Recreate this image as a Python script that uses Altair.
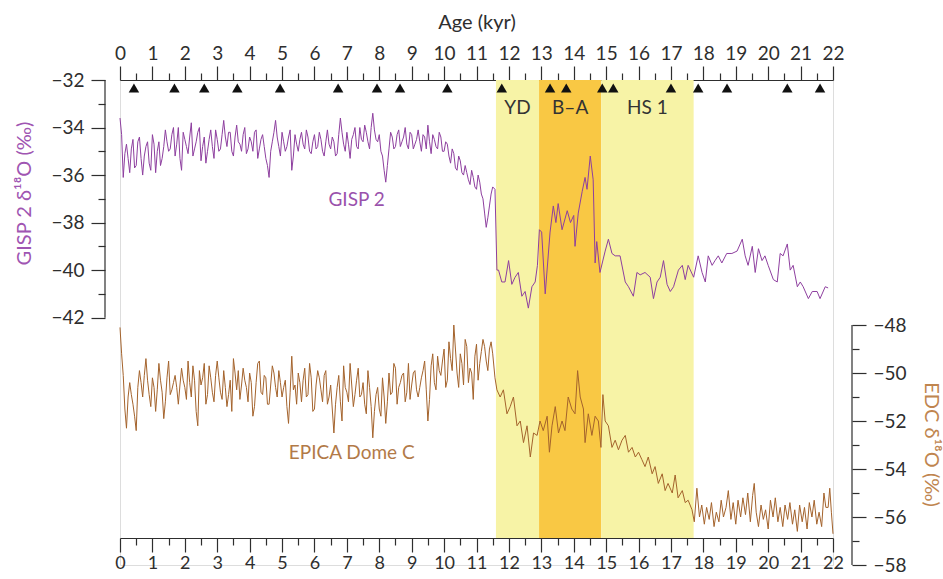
import altair as alt
import pandas as pd

FONT = "Lato"

# ---------------- data ----------------
AGE_STEP = 0.1  # Holocene part: values on a 0.1 kyr grid, plus values half-way between
gisp_holocene = [
    -33.6, -36.1, -34.7, -35.9, -34.5, -35.6, -34.4, -36.0, -34.8, -35.5,
    -34.3, -35.9, -34.6, -35.3, -34.1, -35.0, -34.3, -35.2, -34.0, -35.8,
    -34.5, -35.1, -33.8, -34.9, -34.2, -35.4, -34.4, -35.0, -34.1, -35.3,
    -34.5, -34.9, -33.7, -34.8, -34.2, -35.2, -33.9, -34.7, -34.3, -35.1,
    -34.4, -35.0, -34.1, -34.9, -34.3, -35.3, -36.1, -34.6, -33.7, -34.8,
    -34.2, -35.0, -34.4, -35.8, -34.3, -35.0, -34.2, -34.9, -34.4, -35.1,
    -34.3, -34.8, -34.5, -35.2, -34.1, -34.9, -34.6, -35.1, -33.6, -34.7,
    -34.2, -35.3, -34.3, -34.8, -34.0, -34.6, -34.2, -34.9, -33.4, -34.5,
    -34.3, -35.2, -36.3, -34.9, -34.4, -34.8, -34.1, -34.6, -34.0, -34.9,
    -34.3, -34.7, -34.1, -35.0, -34.4, -33.9, -35.1, -34.5, -34.9, -34.4,
    -35.0, -34.7, -35.5, -35.1, -35.8, -35.4, -36.0, -35.9, -36.4, -36.1,
    -36.6, -36.3, -37.0, -38.2, -37.3, -36.5,
]
gisp_holocene_mid = [
    -34.3, -35.1, -35.3, -34.9, -35.7, -34.6, -35.3, -35.2, -34.6, -35.8,
    -34.7, -35.0, -35.6, -34.8,
    -34.6, -34.9, -34.0, -34.7, -35.3, -34.2, -34.8, -34.4, -35.2, -34.6,
    -34.0, -34.8, -35.5, -34.5, -34.8, -34.1, -35.0, -34.3,
    -34.4, -34.2, -35.0, -34.4, -34.6, -35.0, -34.0, -34.9, -34.6, -34.2,
    -35.3, -34.5, -34.8, -35.6, -35.0, -34.2, -34.4, -35.2, -34.6, -34.8,
    -34.1, -35.2, -34.7, -34.5,
    -34.7, -34.1, -35.0, -34.6, -34.9, -34.2, -35.0, -34.6, -34.7, -34.4,
    -35.2, -34.3, -34.2, -35.0, -34.7, -34.5, -34.0, -34.9, -34.5, -33.9,
    -34.6, -34.0,
    -34.1, -34.6, -35.0, -35.8, -35.6, -34.2, -34.9, -34.3, -34.8, -34.4,
    -34.7, -34.2, -34.9, -34.5, -34.6, -34.3, -34.9, -34.6, -34.3, -34.8,
    -34.2, -35.0, -34.6, -35.2,
    -34.9, -35.7, -35.2, -35.9, -35.6, -36.2, -35.8, -36.5, -36.0, -36.8,
    -37.6, -37.8, -36.8,
]
gisp_deglacial_age = [
    11.57, 11.63, 11.68, 11.78, 11.88, 11.99, 12.09, 12.19, 12.29, 12.4,
    12.5, 12.6, 12.71, 12.81, 12.88, 12.94, 13.01, 13.12, 13.27, 13.37,
    13.45, 13.52, 13.64, 13.8, 13.9, 14.0, 14.04, 14.14, 14.26, 14.35,
    14.41, 14.51, 14.6, 14.66, 14.71, 14.81, 14.97, 15.07, 15.18, 15.28,
    15.43, 15.59, 15.69, 15.84, 15.95, 16.05, 16.2, 16.36, 16.46, 16.57,
    16.67, 16.77, 16.88, 16.98, 17.08, 17.23, 17.35, 17.44, 17.53, 17.7,
    17.84, 17.96, 18.06, 18.15, 18.27, 18.36, 18.46, 18.57, 18.72, 18.88,
    19.04, 19.2, 19.29, 19.38, 19.51, 19.6, 19.7, 19.81, 19.9, 20.0,
    20.16, 20.28, 20.37, 20.46, 20.59, 20.68, 20.77, 20.9, 20.99, 21.08,
    21.24, 21.36, 21.51, 21.6, 21.76, 21.85,
]
gisp_deglacial = [
    -36.6, -40.0, -40.0, -40.5, -40.5, -39.6, -40.6, -40.3, -40.1, -41.1,
    -40.9, -41.6, -40.7, -40.5, -39.8, -38.3, -38.4, -41.0, -38.4, -37.3,
    -38.0, -37.2, -38.3, -37.5, -38.0, -37.7, -39.0, -37.6, -36.7, -36.1,
    -36.6, -35.2, -36.2, -39.7, -38.8, -40.1, -39.2, -38.7, -39.3, -39.4,
    -39.4, -40.5, -40.7, -41.1, -40.1, -40.2, -40.1, -40.3, -41.2, -40.5,
    -40.3, -39.6, -40.6, -40.9, -40.7, -40.0, -39.8, -40.4, -39.8, -40.3,
    -39.4, -40.1, -40.5, -39.4, -39.8, -39.6, -39.4, -39.7, -39.3, -39.3,
    -39.2, -38.7, -39.4, -39.8, -39.0, -40.1, -39.1, -39.6, -39.4, -39.8,
    -40.4, -40.5, -39.3, -39.4, -38.9, -40.0, -39.8, -40.7, -40.5, -40.7,
    -41.2, -40.9, -40.9, -41.2, -40.7, -40.75,
]

edc_holocene = [
    -48.1, -50.1, -52.3, -50.4, -51.3, -52.4, -49.9, -51.0, -49.4, -50.9,
    -50.2, -51.6, -49.6, -50.8, -51.2, -49.5, -50.7, -50.1, -51.3, -49.8,
    -50.6, -49.5, -51.0, -50.3, -52.2, -50.5, -49.6, -50.9, -50.2, -51.2,
    -49.5, -50.8, -49.9, -51.4, -50.3, -49.4, -50.7, -51.1, -49.8, -50.6,
    -50.0, -51.8, -50.4, -49.5, -50.9, -50.2, -51.3, -49.7, -50.6, -49.9,
    -51.0, -50.3, -52.1, -49.3, -50.5, -50.0, -51.2, -49.8, -50.9, -50.2,
    -51.5, -49.9, -50.7, -50.1, -51.3, -50.5, -52.5, -50.6, -51.2, -49.7,
    -50.8, -49.6, -51.4, -50.3, -51.0, -50.4, -51.7, -50.6, -52.7, -50.9,
    -51.5, -50.2, -52.1, -50.0, -50.8, -49.8, -50.6, -50.1, -51.2, -49.6,
    -50.5, -49.9, -51.0, -50.2, -49.5, -52.0, -49.7, -50.4, -49.3, -50.1,
    -49.0, -50.3, -49.4, -48.0, -50.0, -49.2, -50.5, -48.9, -49.8, -51.1,
    -48.8, -49.6, -48.6, -49.5, -49.0, -49.2,
]
edc_holocene_mid = [
    -49.2, -51.5, -51.0, -50.9, -51.8, -50.6, -50.4, -50.1, -50.3, -51.4,
    -50.6, -50.7, -50.3, -51.9,
    -50.2, -50.9, -50.4, -50.6, -50.5, -50.3, -51.1, -50.4, -49.7, -51.6,
    -49.9, -50.2, -51.3, -49.7, -50.8, -50.1, -50.2, -51.1, -50.6, -50.9,
    -51.6, -50.0, -49.9, -50.5, -50.3, -51.2, -50.4, -51.4, -49.6, -50.8,
    -50.1, -51.3, -50.5, -50.0, -51.0, -50.4,
    -50.6, -51.4, -50.8, -50.7, -51.3, -50.4, -50.3, -51.0, -49.6, -51.6,
    -50.5, -50.2, -51.2, -49.9, -51.0,
    -51.5, -51.3, -50.1, -52.0, -50.6, -51.2, -50.5, -50.9, -49.8, -50.9,
    -51.3, -49.9, -51.4, -51.6, -50.6, -51.8, -51.0, -51.2,
    -50.9, -49.6, -51.3, -50.4, -50.0, -50.8, -51.1, -50.0, -50.7, -50.6,
    -49.9, -50.7, -51.1,
    -49.2, -50.7, -49.9, -49.5, -50.6, -48.7, -49.9, -49.0, -50.6, -49.6,
    -48.6, -50.4, -50.0, -49.3, -50.3, -49.1, -48.9, -49.9, -48.7,
]
edc_deglacial_age = [
    11.57, 11.63, 11.73, 11.83, 11.94, 12.04, 12.14, 12.25, 12.35, 12.45,
    12.56, 12.66, 12.76, 12.87, 12.96, 13.06, 13.18, 13.25, 13.33, 13.43,
    13.53, 13.64, 13.73, 13.83, 13.94, 14.04, 14.12, 14.2, 14.3, 14.35,
    14.45, 14.56, 14.66, 14.76, 14.84, 14.9, 14.97, 15.07, 15.18, 15.28,
    15.38, 15.49, 15.59, 15.69, 15.8, 15.9, 16.0, 16.1, 16.2, 16.3,
    16.42, 16.51, 16.61, 16.73, 16.82, 16.91, 17.04, 17.13, 17.22, 17.35,
    17.44, 17.53, 17.65, 17.72, 17.8, 17.88, 17.95, 18.03, 18.1, 18.18,
    18.25, 18.33, 18.4, 18.48, 18.55, 18.62, 18.7, 18.77, 18.85, 18.92,
    19.0, 19.07, 19.15, 19.22, 19.3, 19.37, 19.45, 19.52, 19.57, 19.63,
    19.7, 19.78, 19.85, 19.92, 20.0, 20.07, 20.15, 20.22, 20.3, 20.37,
    20.45, 20.52, 20.6, 20.67, 20.75, 20.82, 20.9, 20.97, 21.05, 21.12,
    21.2, 21.27, 21.35, 21.42, 21.5, 21.57, 21.65, 21.72, 21.78, 21.85,
    21.9, 21.95, 22.0,
]
edc_deglacial = [
    -50.2, -50.7, -51.0, -50.7, -51.7, -51.4, -51.0, -52.2, -52.0, -52.9,
    -52.2, -53.5, -52.5, -52.6, -52.0, -52.4, -51.8, -53.3, -52.2, -51.4,
    -52.5, -52.0, -52.4, -51.0, -51.5, -51.7, -49.9, -51.0, -51.5, -52.9,
    -51.7, -52.6, -51.8, -52.0, -53.1, -50.9, -52.0, -52.2, -53.1, -52.8,
    -53.2, -52.8, -52.6, -53.3, -53.1, -53.5, -53.3, -53.6, -53.9, -53.5,
    -54.2, -53.9, -54.6, -54.2, -54.9, -54.6, -55.0, -54.25, -55.2, -54.9,
    -55.4, -55.3, -55.7, -56.2, -54.8, -56.0, -55.5, -56.3, -55.6, -56.1,
    -55.4, -56.4, -55.8, -56.2, -55.3, -56.0, -55.6, -54.9, -56.1, -55.4,
    -56.3, -55.3, -56.0, -55.2, -55.9, -55.0, -56.2, -55.1, -54.6, -55.8,
    -56.4, -55.5, -56.1, -55.7, -56.5, -55.3, -56.0, -55.2, -56.2, -55.6,
    -56.4, -55.5, -56.1, -55.4, -56.3, -55.7, -56.6, -55.5, -56.2, -55.6,
    -56.5, -55.4, -56.0, -55.3, -56.3, -55.8, -56.4, -55.0, -55.6, -55.6,
    -54.8, -55.8, -56.7,
]

event_ages = [0.43, 1.68, 2.6, 3.62, 4.94, 6.73, 7.93, 8.64, 10.1, 11.78,
              13.27, 13.77, 14.88, 15.22, 17.0, 17.84, 18.73, 20.59, 21.6]

band_names = ["YD", "B\u2013A", "HS 1"]
band_start = [11.6, 12.93, 14.85]
band_end = [12.93, 14.85, 17.7]
band_colors = ["#F7F3A6", "#F9C844", "#F7F3A6"]

x_ticks = [i * 0.5 for i in range(45)]
gisp_ticks = list(range(-32, -43, -1))
edc_ticks = list(range(-48, -59, -1))


# ---------------- tables ----------------
def series(grid_vals, mid_vals, deg_age, deg_vals):
    ages = [round(i * AGE_STEP, 3) for i in range(len(grid_vals))]
    ages += [round((i + 0.5) * AGE_STEP, 3) for i in range(len(mid_vals))]
    df = pd.DataFrame({"age": ages + deg_age, "v": grid_vals + mid_vals + deg_vals})
    return df.sort_values("age").reset_index(drop=True)


gisp_df = series(gisp_holocene, gisp_holocene_mid, gisp_deglacial_age, gisp_deglacial)
edc_df = series(edc_holocene, edc_holocene_mid, edc_deglacial_age, edc_deglacial)
bands_df = pd.DataFrame({"name": band_names, "start": band_start, "end": band_end, "color": band_colors})
bands_df["mid"] = (bands_df["start"] + bands_df["end"]) / 2
events_df = pd.DataFrame({"age": event_ages})
gisp_ax_df = pd.DataFrame({"top": [gisp_ticks[0]], "bottom": [gisp_ticks[-1]]})
edc_ax_df = pd.DataFrame({"top": [edc_ticks[0]], "bottom": [edc_ticks[-1]]})

# ---------------- layout ----------------
W, H = 713, 485
AX = "#2e2e2e"
PURPLE = "#8E3F9F"
BROWN = "#A4632C"

x_scale = alt.Scale(domain=[0, 22], nice=False, zero=False)
gisp_scale = alt.Scale(domain=[-52.41, -32], nice=False, zero=False)
edc_scale = alt.Scale(domain=[-58, -37.79], nice=False, zero=False)

half_tick = {"condition": {"test": "datum.value % 1 === 0", "value": 14}, "value": 7}
odd_tick = {"condition": {"test": "abs(datum.value) % 2 === 0", "value": 14}, "value": 7}

common_axis = dict(
    grid=False, labelFont=FONT, titleFont=FONT, labelColor=AX, tickColor=AX,
    domainColor=AX, tickWidth=1.2, domainWidth=1.2, labelOverlap=False,
    labelFlush=False, labelBound=False,
)

top_axis = alt.Axis(
    orient="top", values=x_ticks, tickSize=half_tick, labelFontSize=19,
    labelExpr="datum.value % 1 === 0 ? format(datum.value, 'd') : ''",
    labelPadding=3, title="Age (kyr)", titleFontSize=20, titleFontWeight="normal",
    titleColor=AX, titleY=-58, titleBaseline="middle", **common_axis,
)
bottom_axis = alt.Axis(
    orient="bottom", offset=-27, values=x_ticks, tickSize=half_tick, labelFontSize=18,
    labelExpr="datum.value % 1 === 0 ? format(datum.value, 'd') : ''",
    labelPadding=2, title=None, **common_axis,
)
left_axis = alt.Axis(
    orient="left", offset=15, values=gisp_ticks, tickSize=odd_tick, domain=False,
    labelExpr="abs(datum.value) % 2 === 0 ? format(datum.value, 'd') : ''",
    labelFontSize=19, labelPadding=7, title="GISP 2 \u03b4\u00b9\u2078O (\u2030)",
    titleFontSize=20, titleFontWeight="normal", titleColor="#A055B2",
    titleX=-81, titleY=113, titleBaseline="middle", titleAngle=270,
    **common_axis,
)
right_axis = alt.Axis(
    orient="right", offset=19, values=edc_ticks, tickSize=odd_tick, domain=False,
    labelExpr="abs(datum.value) % 2 === 0 ? format(datum.value, 'd') : ''",
    labelFontSize=19, labelPadding=7, title="EDC \u03b4\u00b9\u2078O (\u2030)",
    titleFontSize=20, titleFontWeight="normal", titleColor="#C0854F",
    titleX=78, titleY=364, titleBaseline="middle", titleAngle=90,
    **common_axis,
)

bands = alt.Chart(bands_df).mark_rect().encode(
    x=alt.X("start:Q", scale=x_scale, axis=top_axis),
    x2="end:Q",
    y=alt.value(0), y2=alt.value(458),
    color=alt.Color("color:N", scale=None),
)
band_text = alt.Chart(bands_df).mark_text(fontSize=19, font=FONT, color="#333333").encode(
    x=alt.X("mid:Q", scale=x_scale, axis=None),
    y=alt.value(28),
    text="name:N",
)
events = alt.Chart(events_df).mark_point(
    shape="triangle-up", filled=True, color="#111111", size=110, opacity=1
).encode(x=alt.X("age:Q", scale=x_scale, axis=None), y=alt.value(8))

gisp_line = alt.Chart(gisp_df).mark_line(color=PURPLE, strokeWidth=1.0).encode(
    x=alt.X("age:Q", scale=x_scale, axis=None),
    y=alt.Y("v:Q", scale=gisp_scale, axis=left_axis),
)
gisp_rule = alt.Chart(gisp_ax_df).mark_rule(color=AX, strokeWidth=1.2).encode(
    x=alt.value(-15),
    y=alt.Y("top:Q", scale=gisp_scale, axis=None),
    y2="bottom:Q",
)
gisp_label = alt.Chart(pd.DataFrame({"age": [7.3], "v": [-37.05], "t": ["GISP 2"]})).mark_text(
    fontSize=19, font=FONT, color="#9A52AC"
).encode(
    x=alt.X("age:Q", scale=x_scale, axis=None),
    y=alt.Y("v:Q", scale=gisp_scale, axis=None),
    text="t:N",
)

edc_line = alt.Chart(edc_df).mark_line(color=BROWN, strokeWidth=1.0).encode(
    x=alt.X("age:Q", scale=x_scale, axis=bottom_axis),
    y=alt.Y("v:Q", scale=edc_scale, axis=right_axis),
)
edc_rule = alt.Chart(edc_ax_df).mark_rule(color=AX, strokeWidth=1.2).encode(
    x=alt.value(W + 19),
    y=alt.Y("top:Q", scale=edc_scale, axis=None),
    y2="bottom:Q",
)
edc_label = alt.Chart(pd.DataFrame({"age": [7.15], "v": [-53.33], "t": ["EPICA Dome C"]})).mark_text(
    fontSize=19, font=FONT, color="#B27A48"
).encode(
    x=alt.X("age:Q", scale=x_scale, axis=None),
    y=alt.Y("v:Q", scale=edc_scale, axis=None),
    text="t:N",
)

chart = alt.layer(
    bands, events, band_text, gisp_line, gisp_rule, gisp_label, edc_line, edc_rule, edc_label
).resolve_scale(y="independent").resolve_axis(x="independent", y="independent").properties(
    width=W, height=H,
    autosize=alt.AutoSizeParams(type="none"),
    padding={"left": 120, "top": 80, "right": 110, "bottom": 14},
).configure_view(stroke=None).configure(background="white")

chart.save("out.html", embed_options={"renderer": "svg", "actions": False})
